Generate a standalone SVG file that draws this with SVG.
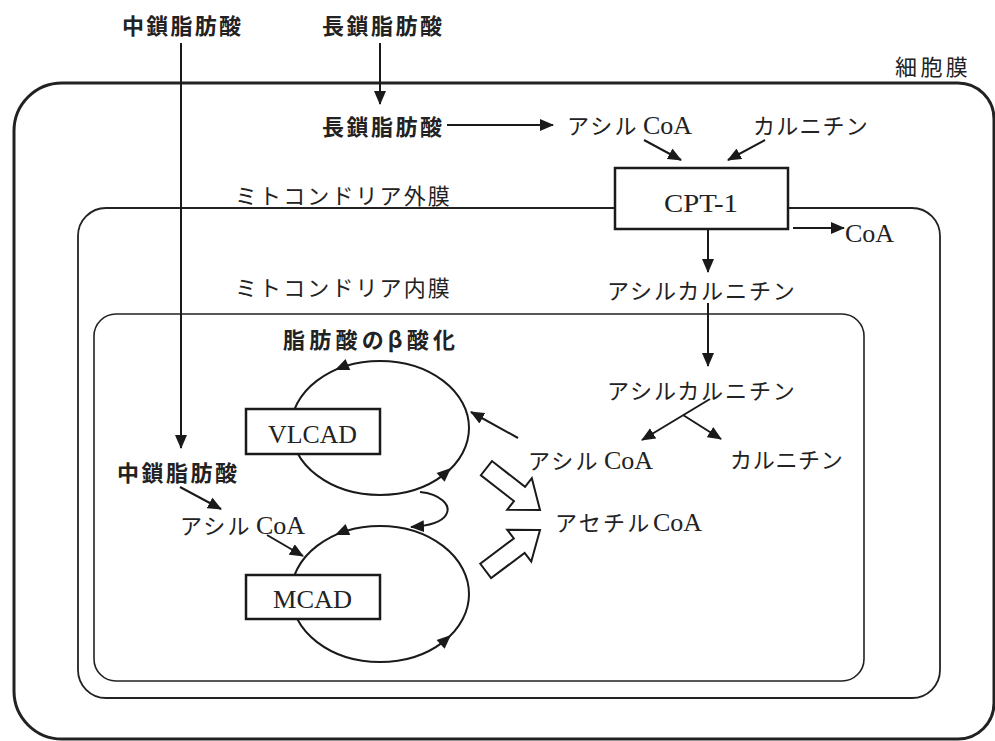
<svg xmlns="http://www.w3.org/2000/svg" width="995" height="741" viewBox="0 0 995 741">
<style>
.mem{fill:none;stroke:#222}
.ln{fill:none;stroke:#1a1a1a;stroke-width:2}
.box{fill:#fff;stroke:#1a1a1a;stroke-width:2.5}
.g{font-family:"Noto Sans CJK JP","Noto Sans CJK SC",sans-serif;font-weight:bold;font-size:22px;fill:#222}
.k{font-family:"Noto Sans CJK JP","Noto Sans CJK SC",sans-serif;font-size:22px;fill:#222;letter-spacing:2.2px}
.s{font-family:"Liberation Serif","Noto Sans CJK JP",serif;font-size:26px;fill:#222;letter-spacing:0}
.hd{fill:#1a1a1a}
.hollow{fill:#fff;stroke:#1a1a1a;stroke-width:2}
</style>
<defs>
<marker id="ah" viewBox="0 0 14 12" refX="13" refY="6" markerWidth="14" markerHeight="12" markerUnits="userSpaceOnUse" orient="auto">
<path d="M0,0 L14,6 L0,12 Z" fill="#1a1a1a"/>
</marker>
</defs>
<rect width="995" height="741" fill="#fff"/>

<g id="membranes">
<path id="cell-membrane" class="mem" stroke-width="3" d="M62 83 H958 A36 36 0 0 1 994 119 V703 A36 36 0 0 1 958 739 H62 A48 48 0 0 1 14 691 V131 A48 48 0 0 1 62 83 Z"/>
<rect id="outer-membrane" class="mem" stroke-width="1.8" x="78" y="208" width="862" height="490" rx="28"/>
<rect id="inner-membrane" class="mem" stroke-width="1.6" x="94" y="314" width="770" height="367" rx="22"/>
</g>

<g id="connectors">
<path class="ln" d="M181 43 V448" marker-end="url(#ah)"/>
<path class="ln" d="M380 43 V104" marker-end="url(#ah)"/>
<path class="ln" stroke-width="2.8" d="M447 125 H553" marker-end="url(#ah)"/>
<path class="ln" d="M644 140 L681 160" marker-end="url(#ah)"/>
<path class="ln" d="M765 140 L728 160" marker-end="url(#ah)"/>
<path class="ln" d="M793 228 H844" marker-end="url(#ah)"/>
<path class="ln" d="M708 229 V272" marker-end="url(#ah)"/>
<path class="ln" d="M708 303 V366" marker-end="url(#ah)"/>
<path class="ln" d="M710 399 L642 440" marker-end="url(#ah)"/>
<path class="ln" d="M683 415 L721 439" marker-end="url(#ah)"/>
<path class="ln" d="M518 438 L471 412" marker-end="url(#ah)"/>
<path class="ln" d="M180 487 L221 509" marker-end="url(#ah)"/>
<path class="ln" d="M267 535 L303 556" marker-end="url(#ah)"/>
<ellipse class="ln" cx="380" cy="428" rx="89" ry="67"/>
<ellipse class="ln" cx="380" cy="594" rx="89" ry="68"/>
<path class="ln" d="M420 492 C440 494 452 505 446 515 C441 523 428 526 411 527" marker-end="url(#ah)"/>
<polygon class="hd" points="0,0 -14,-6 -14,6" transform="translate(335,370) rotate(157)"/>
<polygon class="hd" points="0,0 -14,-6 -14,6" transform="translate(451,468) rotate(-42)"/>
<polygon class="hd" points="0,0 -14,-6 -14,6" transform="translate(335,535) rotate(157)"/>
<polygon class="hd" points="0,0 -14,-6 -14,6" transform="translate(451,635) rotate(-42)"/>
<polygon class="hollow" points="0,0 -26,-20 -26,-9 -68,-9 -68,9 -26,9 -26,20" transform="translate(540,510) rotate(38)"/>
<polygon class="hollow" points="0,0 -26,-20 -26,-9 -68,-9 -68,9 -26,9 -26,20" transform="translate(540,530) rotate(-37)"/>
</g>

<g id="cpt1"><rect class="box" x="615" y="168" width="173" height="61"/><text class="s" x="664" y="212" font-size="28" textLength="74" lengthAdjust="spacingAndGlyphs">CPT-1</text></g>
<g id="vlcad"><rect class="box" x="246" y="409" width="134" height="45"/><text class="s" x="268" y="443" font-size="27" textLength="89" lengthAdjust="spacingAndGlyphs">VLCAD</text></g>
<g id="mcad"><rect class="box" x="246" y="575" width="134" height="44"/><text class="s" x="273" y="608" font-size="27" textLength="79" lengthAdjust="spacingAndGlyphs">MCAD</text></g>

<g id="mcfa-top"><text class="g" x="122" y="34" textLength="119" lengthAdjust="spacing">中鎖脂肪酸</text></g>
<g id="lcfa-top"><text class="g" x="322" y="34" textLength="120" lengthAdjust="spacing">長鎖脂肪酸</text></g>
<g id="lcfa-cell"><text class="g" x="322" y="135" textLength="120" lengthAdjust="spacing">長鎖脂肪酸</text></g>
<g id="acylcoa-top"><text y="134"><tspan class="k" x="567">アシル</tspan><tspan class="s" x="643">CoA</tspan></text></g>
<g id="carnitine-top"><text class="k" x="753" y="134" textLength="117" lengthAdjust="spacing">カルニチン</text></g>
<g id="cell-label"><text class="k" x="895" y="75" font-size="23" textLength="75" lengthAdjust="spacing">細胞膜</text></g>
<g id="coa-out"><text class="s" x="845" y="242">CoA</text></g>
<g id="outer-label"><text class="k" x="235" y="204" textLength="217" lengthAdjust="spacing">ミトコンドリア外膜</text></g>
<g id="inner-label"><text class="k" x="235" y="296" textLength="217" lengthAdjust="spacing">ミトコンドリア内膜</text></g>
<g id="acylcarnitine-1"><text class="k" x="607" y="299" textLength="190" lengthAdjust="spacing">アシルカルニチン</text></g>
<g id="acylcarnitine-2"><text class="k" x="607" y="399" textLength="190" lengthAdjust="spacing">アシルカルニチン</text></g>
<g id="beta-ox"><text class="g" x="283" y="348" textLength="172" lengthAdjust="spacing">脂肪酸のβ酸化</text></g>
<g id="acylcoa-mid"><text y="469"><tspan class="k" x="528">アシル</tspan><tspan class="s" x="604">CoA</tspan></text></g>
<g id="carnitine-mid"><text class="k" x="730" y="468" textLength="115" lengthAdjust="spacing">カルニチン</text></g>
<g id="mcfa-inner"><text class="g" x="117" y="481" textLength="120" lengthAdjust="spacing">中鎖脂肪酸</text></g>
<g id="acetylcoa"><text y="531"><tspan class="k" x="555">アセチル</tspan><tspan class="s" x="653">CoA</tspan></text></g>
<g id="acylcoa-left"><text y="534"><tspan class="k" x="180">アシル</tspan><tspan class="s" x="256">CoA</tspan></text></g>
</svg>
